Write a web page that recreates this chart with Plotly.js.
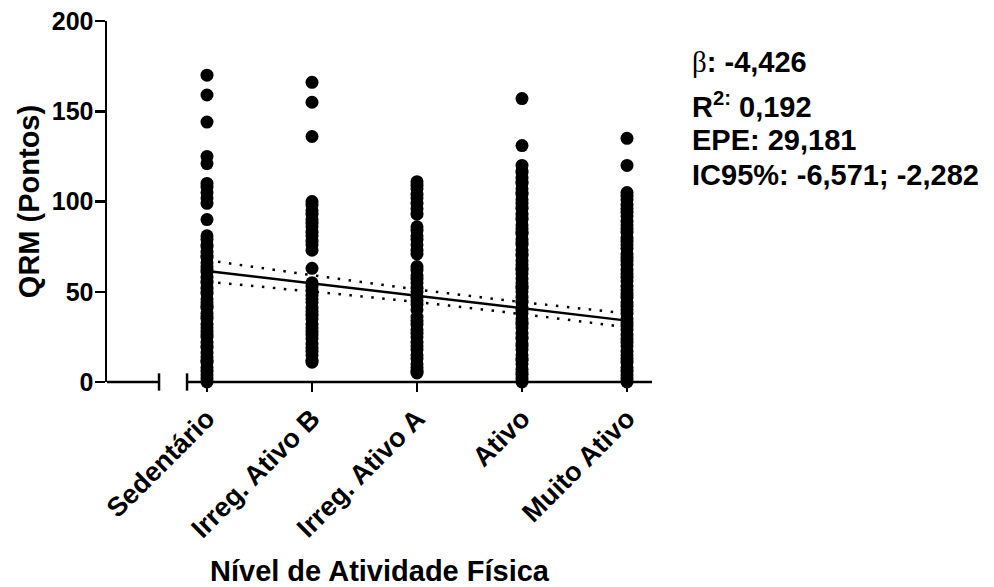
<!DOCTYPE html>
<html>
<head>
<meta charset="utf-8">
<script src="https://cdn.plot.ly/plotly-3.0.1.min.js"></script>
<style>html,body{margin:0;padding:0;background:#fff;}</style>
</head>
<body>
<div id="chart" style="width:994px;height:587px;"></div>
<script>
// Categories (x tick labels)
const categories = ['Sedentário', 'Irreg. Ativo B', 'Irreg. Ativo A', 'Ativo', 'Muito Ativo'];

// QRM scores per physical activity level
const sedentario = [170,159,144,125,121,110,108,105,102,99,90,81,79,76,75,72,70,69,66,64,62,61,58,56,55,52,50,49,46,44,42,41,38,36,35,32,30,28,26,25,22,20,19,16,14,12,11,8,6,4,2,0];
const irregB = [166,155,136,100,98,95,93,90,88,86,83,81,78,76,73,63,55,53,51,48,46,44,41,39,37,35,32,30,28,26,24,21,19,17,15,12,11];
const irregA = [111,109,107,104,102,99,96,93,86,84,81,79,76,73,71,64,62,59,57,55,52,50,47,45,43,40,36,34,32,29,27,25,22,20,18,15,13,10,8,6,5];
const ativo = [157,131,120,117,116,113,111,110,107,105,104,101,99,97,96,93,91,90,87,85,83,82,79,77,76,73,71,70,67,65,63,62,60,57,55,53,52,50,47,45,44,41,40,38,35,33,32,30,27,25,24,21,20,18,15,13,12,10,7,5,4,2,0];
const muitoAtivo = [135,120,105,103,101,98,96,94,92,89,87,85,83,80,78,76,74,71,69,67,65,62,60,58,56,53,51,49,47,44,42,40,38,35,33,31,29,26,24,22,20,17,15,13,11,8,6,4,2,0];
const groups = [sedentario, irregB, irregA, ativo, muitoAtivo];

// Regression line and 95% confidence band
const fitX = [1, 5];
const fitY = [61.5, 34];
const bandX = [1, 2, 3, 4, 5];
const bandUpper = [67.5, 59.2, 51.3, 44.3, 38];
const bandLower = [55.5, 50.1, 44.3, 37.6, 30.3];

// Statistics text
const statLines = [
  '<span style="font-family:\'Liberation Serif\',serif;font-weight:normal">β</span>: -4,426',
  'R<sup>2:</sup> 0,192',
  'EPE: 29,181',
  'IC95%: -6,571; -2,282'
];

const FONT = 'Arial, "Liberation Sans", Helvetica, sans-serif';

const traces = [];
groups.forEach((ys, i) => {
  traces.push({
    type: 'scatter', mode: 'markers',
    x: ys.map(() => i + 1), y: ys,
    marker: {color: '#000', size: 13},
    cliponaxis: false, hoverinfo: 'skip', showlegend: false
  });
});
traces.push({type: 'scatter', mode: 'lines', x: fitX, y: fitY,
  line: {color: '#000', width: 2.5}, showlegend: false, hoverinfo: 'skip'});
traces.push({type: 'scatter', mode: 'lines', x: bandX, y: bandUpper,
  line: {color: '#000', width: 2.5, dash: '2.5px,8.5px', shape: 'spline'}, showlegend: false, hoverinfo: 'skip'});
traces.push({type: 'scatter', mode: 'lines', x: bandX, y: bandLower,
  line: {color: '#000', width: 2.5, dash: '2.5px,8.5px', shape: 'spline'}, showlegend: false, hoverinfo: 'skip'});

const xr = [0.0476, 5.238];
const brk = [0.543, 0.81];

const layout = {
  width: 994, height: 587,
  margin: {l: 107, r: 342, t: 21, b: 205},
  paper_bgcolor: '#fff', plot_bgcolor: '#fff',
  font: {family: FONT, color: '#000', weight: 'bold'},
  xaxis: {
    range: xr, tickmode: 'array', tickvals: [1, 2, 3, 4, 5], ticktext: categories,
    ticks: 'outside', ticklen: 9, tickwidth: 2.5, tickcolor: '#000',
    showline: false, showgrid: false, zeroline: false, tickangle: -45,
    tickfont: {family: FONT, size: 27, color: '#000', weight: 'bold'},
    title: {text: 'Nível de Atividade Física', font: {family: FONT, size: 29, color: '#000', weight: 'bold'}, standoff: 27}
  },
  yaxis: {
    range: [0, 200], tickmode: 'array', tickvals: [0, 50, 100, 150, 200],
    ticks: 'outside', ticklen: 10, tickwidth: 2.5, tickcolor: '#000',
    ticklabelstandoff: -4,
    showline: true, linewidth: 2.5, linecolor: '#000',
    showgrid: false, zeroline: false,
    tickfont: {family: FONT, size: 25, color: '#000', weight: 'bold'},
    title: {text: 'QRM (Pontos)', font: {family: FONT, size: 29, color: '#000', weight: 'bold'}, standoff: 4}
  },
  shapes: [
    {type: 'line', xref: 'x', yref: 'paper', x0: xr[0], x1: brk[0], y0: 0, y1: 0, line: {color: '#000', width: 2.5}, layer: 'below'},
    {type: 'line', xref: 'x', yref: 'paper', x0: brk[1], x1: xr[1], y0: 0, y1: 0, line: {color: '#000', width: 2.5}, layer: 'below'},
    {type: 'line', xref: 'x', yref: 'paper', x0: brk[0], x1: brk[0], y0: -0.024, y1: 0.024, line: {color: '#000', width: 2.5}, layer: 'below'},
    {type: 'line', xref: 'x', yref: 'paper', x0: brk[1], x1: brk[1], y0: -0.024, y1: 0.024, line: {color: '#000', width: 2.5}, layer: 'below'}
  ],
  annotations: statLines.map((t, i) => ({
    text: t, xref: 'paper', yref: 'paper', x: 1.07, y: [0.886, 0.768, 0.670, 0.573][i],
    xanchor: 'left', yanchor: 'middle', showarrow: false, align: 'left',
    font: {family: FONT, size: 29, color: '#000', weight: 'bold'}
  }))
};

Plotly.newPlot('chart', traces, layout, {displayModeBar: false, staticPlot: true});
</script>
</body>
</html>
